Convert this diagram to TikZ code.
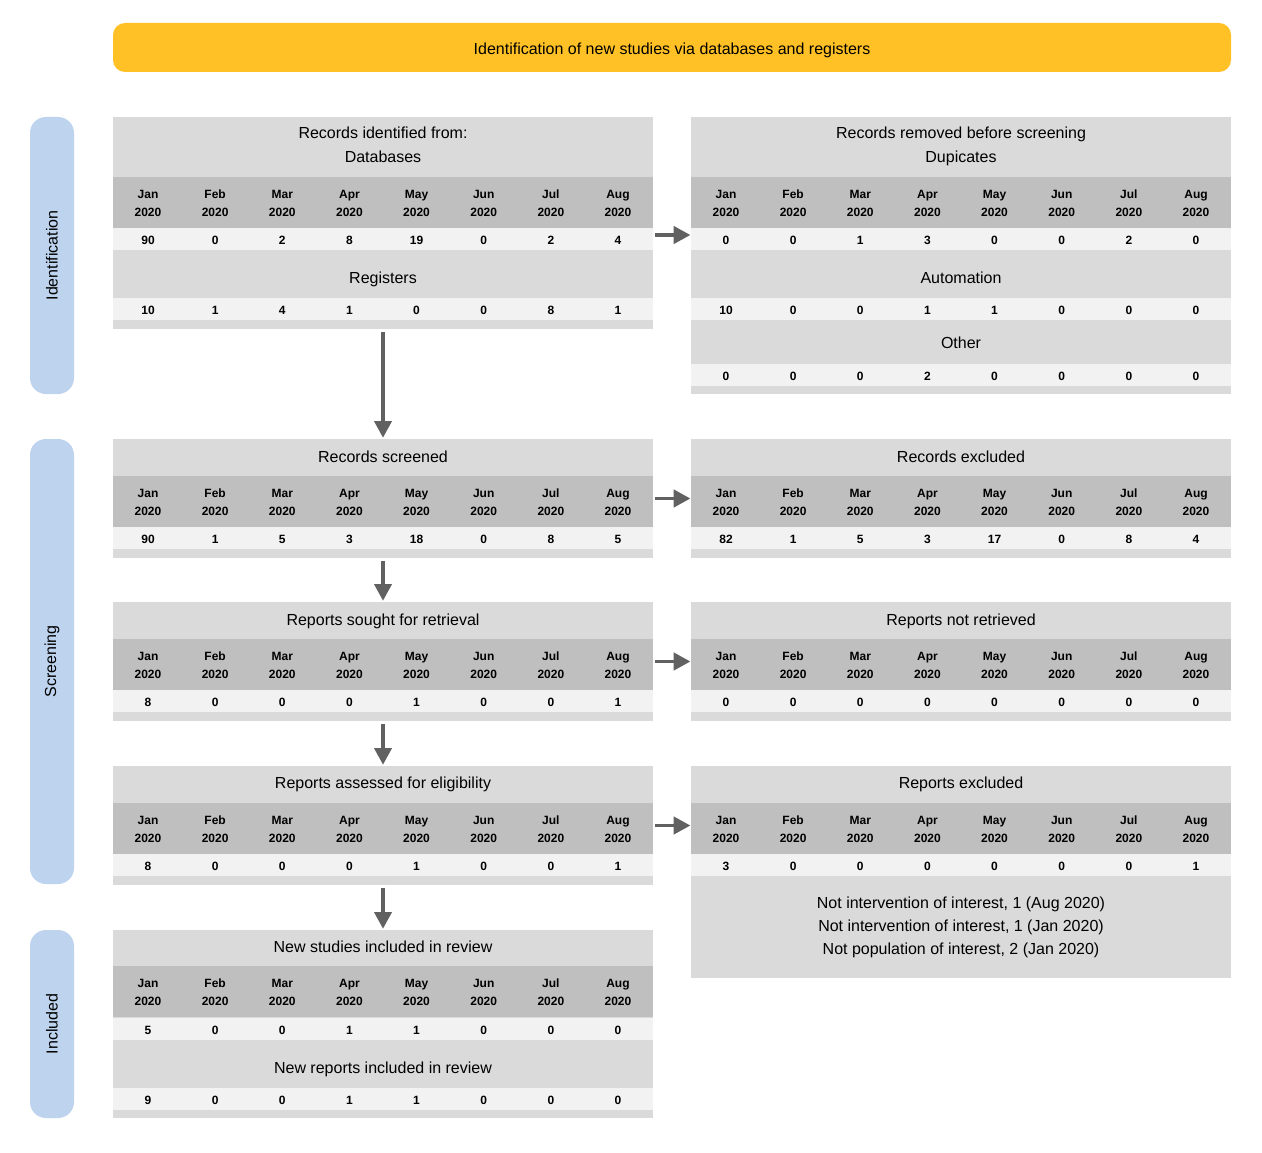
\documentclass[tikz,border=0pt]{standalone}
\usepackage{fontspec}
\setmainfont{Liberation Sans}
\usetikzlibrary{arrows.meta}

\definecolor{banner}{HTML}{FFC125}
\definecolor{phase}{HTML}{BDD3EE}
\definecolor{light}{HTML}{DADADA}
\definecolor{mid}{HTML}{BFBFBF}
\definecolor{pale}{HTML}{F2F2F2}
\definecolor{arrowgray}{HTML}{616161}

\tikzset{
  panelbox/.style={fill=light, minimum width=405pt, inner sep=0pt, outer sep=0pt},
  boxtitle/.style={font=\fontsize{12}{18}\selectfont, align=center, inner sep=0pt,
    text depth=0pt, yshift=-0.9pt},
  notes/.style={font=\fontsize{12}{17.25}\selectfont, align=center, inner sep=0pt, yshift=-1.5pt},
  monthcell/.style={font=\fontsize{9}{13.5}\selectfont\bfseries, align=center, inner sep=0pt,
    yshift=-0.75pt},
  cellnum/.style={font=\fontsize{9}{10}\selectfont\bfseries, inner sep=0pt, yshift=-0.75pt},
  phaselabel/.style={fill=phase, rounded corners=12pt, minimum width=33pt, inner sep=0pt,
    font=\fontsize{12}{14}\selectfont},
  flow/.style={draw=arrowgray, line width=2.4pt,
    -{Triangle[length=12.5pt, width=13pt]}}
}

% panel background: name, left x, top y, bottom y
\newcommand\panel[4]{%
  \node[panelbox, minimum height={(#4-#3)*0.75pt}, anchor=north west] (#1) at (#2,#3) {};}
% month header band: prefix, left x, top y
\newcommand\monthrow[3]{%
  \fill[mid] (#2,#3) rectangle ++(540,51);
  \foreach \m [count=\i from 0] in {Jan,Feb,Mar,Apr,May,Jun,Jul,Aug}
    \node[monthcell] (#1-m\i) at ({#2+35+67.14*\i},{#3+25.5}) {\m\\2020};}
% value band: prefix, left x, top y, values
\newcommand\valrow[4]{%
  \fill[pale] (#2,#3) rectangle ++(540,22);
  \foreach \v [count=\i from 0] in {#4}
    \node[cellnum] (#1-\i) at ({#2+35+67.14*\i},{#3+11}) {\v};}

\begin{document}
\begin{tikzpicture}[x=0.75pt, y=-0.75pt]
\useasboundingbox[fill=white] (0,0) rectangle (1262,1152);

% banner
\node[fill=banner, rounded corners=9pt, minimum width={1118*0.75pt}, minimum height={49*0.75pt},
  inner sep=0pt, outer sep=0pt] (banner) at (672,47.5) {};
\node[font=\fontsize{12}{14}\selectfont, inner sep=0pt, text depth=0pt] (banner-t) at (672,48.5)
  {Identification of new studies via databases and registers};

% phase labels
\node[phaselabel, minimum height={277*0.75pt}] (ph1) at (52,255.5) {\rotatebox{90}{Identification}};
\node[phaselabel, minimum height={445*0.75pt}] (ph2) at (52,661.5) {\rotatebox{90}{Screening}};
\node[phaselabel, minimum height={188*0.75pt}] (ph3) at (52,1024) {\rotatebox{90}{Included}};

% records identified
\panel{ident}{113}{117}{329}
\node[boxtitle] (ident-t) at (383,144) {Records identified from:\\Databases};
\monthrow{ident}{113}{177}
\valrow{identdb}{113}{228}{90,0,2,8,19,0,2,4}
\node[boxtitle] (ident-r) at (383,277) {Registers};
\valrow{identrg}{113}{298}{10,1,4,1,0,0,8,1}

% records removed
\panel{removed}{691}{117}{394}
\node[boxtitle] (removed-t) at (961,144) {Records removed before screening\\Dupicates};
\monthrow{removed}{691}{177}
\valrow{removeddup}{691}{228}{0,0,1,3,0,0,2,0}
\node[boxtitle] (removed-a) at (961,277) {Automation};
\valrow{removedaut}{691}{298}{10,0,0,1,1,0,0,0}
\node[boxtitle] (removed-o) at (961,342) {Other};
\valrow{removedoth}{691}{364}{0,0,0,2,0,0,0,0}

% records screened / excluded
\panel{screened}{113}{439}{558}
\node[boxtitle] (screened-t) at (383,455) {Records screened};
\monthrow{screened}{113}{476}
\valrow{screenedv}{113}{527}{90,1,5,3,18,0,8,5}

\panel{excluded}{691}{439}{558}
\node[boxtitle] (excluded-t) at (961,455) {Records excluded};
\monthrow{excluded}{691}{476}
\valrow{excludedv}{691}{527}{82,1,5,3,17,0,8,4}

% reports sought / not retrieved
\panel{sought}{113}{602}{721}
\node[boxtitle] (sought-t) at (383,618) {Reports sought for retrieval};
\monthrow{sought}{113}{639}
\valrow{soughtv}{113}{690}{8,0,0,0,1,0,0,1}

\panel{notret}{691}{602}{721}
\node[boxtitle] (notret-t) at (961,618) {Reports not retrieved};
\monthrow{notret}{691}{639}
\valrow{notretv}{691}{690}{0,0,0,0,0,0,0,0}

% reports assessed / excluded
\panel{assessed}{113}{766}{885}
\node[boxtitle] (assessed-t) at (383,781) {Reports assessed for eligibility};
\monthrow{assessed}{113}{803}
\valrow{assessedv}{113}{854}{8,0,0,0,1,0,0,1}

\panel{repexcl}{691}{766}{978}
\node[boxtitle] (repexcl-t) at (961,781) {Reports excluded};
\monthrow{repexcl}{691}{803}
\valrow{repexclv}{691}{854}{3,0,0,0,0,0,0,1}
\node[notes] (repexcl-n) at (961,925)
  {Not intervention of interest, 1 (Aug 2020)\\
   Not intervention of interest, 1 (Jan 2020)\\
   Not population of interest, 2 (Jan 2020)};

% included
\panel{included}{113}{930}{1118}
\node[boxtitle] (included-t) at (383,945) {New studies included in review};
\monthrow{included}{113}{966}
\valrow{includedst}{113}{1018}{5,0,0,1,1,0,0,0}
\node[boxtitle] (included-r) at (383,1066) {New reports included in review};
\valrow{includedrp}{113}{1088}{9,0,0,1,1,0,0,0}

% connectors
\coordinate (lvl1) at (672,235);
\draw[flow, shorten <=1.5pt, shorten >=0.5pt] (ident.east |- lvl1) -- (removed.west |- lvl1);
\draw[flow, shorten <=1.5pt, shorten >=0.5pt] (screened.east) -- (excluded.west);
\draw[flow, shorten <=1.5pt, shorten >=0.5pt] (sought.east) -- (notret.west);
\draw[flow, shorten <=1.5pt, shorten >=0.5pt] (assessed.east) -- (repexcl.west |- assessed.east);

\draw[flow, shorten <=2pt, shorten >=1pt] (ident.south) -- (screened.north);
\draw[flow, shorten <=2pt, shorten >=1pt] (screened.south) -- (sought.north);
\draw[flow, shorten <=2pt, shorten >=1pt] (sought.south) -- (assessed.north);
\draw[flow, shorten <=2pt, shorten >=1pt] (assessed.south) -- (included.north);
\end{tikzpicture}
\end{document}
